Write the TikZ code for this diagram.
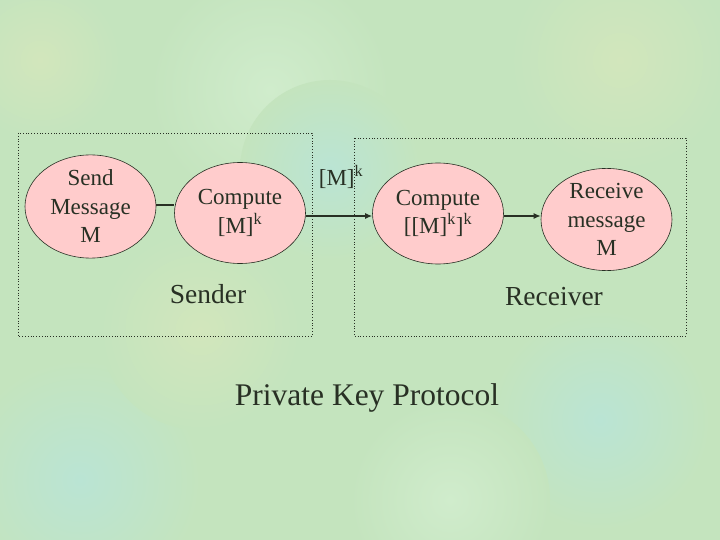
\documentclass[tikz,border=0pt]{standalone}
\usepackage{fontspec}
\setmainfont{Liberation Serif}
\usetikzlibrary{arrows.meta,shapes.geometric}
\definecolor{bgbase}{RGB}{196,228,190}
\definecolor{bgblue}{RGB}{186,228,212}
\definecolor{bgyellow}{RGB}{210,230,188}
\definecolor{bglight}{RGB}{208,236,204}
\definecolor{ellfill}{RGB}{255,204,204}
\definecolor{inkdark}{RGB}{40,48,36}
\tikzset{
  proc/.style={ellipse, draw=inkdark, line width=0.6pt, fill=ellfill,
    minimum width=131pt, minimum height=101pt, inner sep=0pt,
    align=center, text=inkdark, font=\fontsize{23}{28.5}\selectfont},
  groupbox/.style={draw=inkdark, dotted, line width=0.8pt},
  flow/.style={draw=inkdark, line width=1.2pt},
  flowarrow/.style={flow, -{Latex[length=7pt,width=6pt]}},
  grouplabel/.style={text=inkdark, font=\fontsize{27.5}{32}\selectfont, inner sep=0pt},
  msglabel/.style={text=inkdark, font=\fontsize{23}{28}\selectfont, inner sep=0pt},
  titlelabel/.style={text=inkdark, font=\fontsize{31.5}{36}\selectfont, inner sep=0pt}
}
\begin{document}
\begin{tikzpicture}[x=1pt,y=-1pt]
\useasboundingbox (0,0) rectangle (720,540);
\fill[bgbase] (0,0) rectangle (720,540);
\begin{scope}
\clip (0,0) rectangle (720,540);
\shade[inner color=bglight, outer color=bgbase] (270,90) circle (120);
\shade[inner color=bgyellow, outer color=bgbase] (620,60) circle (110);
\shade[inner color=bgblue, outer color=bgbase] (330,170) circle (90);
\shade[inner color=bgblue, outer color=bgbase] (80,480) circle (120);
\shade[inner color=bgyellow, outer color=bgbase] (200,330) circle (100);
\shade[inner color=bgblue, outer color=bgbase] (600,420) circle (110);
\shade[inner color=bglight, outer color=bgbase] (450,500) circle (100);
\shade[inner color=bgyellow, outer color=bgbase] (40,60) circle (80);
\end{scope}

\draw[groupbox] (18,133) rectangle (312,336);
\draw[groupbox] (354,138) rectangle (686,336);

\node[proc] (send) at (90.5,206.5) {Send\\Message\\M};
\node[proc] (comp1) at (240,213) {Compute\\{}[M]\textsuperscript{k}};
\node[proc] (comp2) at (438,213.5) {Compute\\{}[[M]\textsuperscript{k}]\textsuperscript{k}};
\node[proc] (recv) at (606.5,219.5) {Receive\\message\\M};

\draw[flow] (send.east |- 0,205) -- (comp1.west |- 0,205);
\draw[flowarrow] (comp1.east |- 0,216) -- (comp2.west |- 0,216);
\draw[flowarrow] (comp2.east |- 0,216) -- (recv.west |- 0,216);

\node[msglabel] (msg) at (341,177) {[M]\textsuperscript{k}};
\node[grouplabel] (sender) at (208,294) {Sender};
\node[grouplabel] (receiver) at (554,297) {Receiver};
\node[titlelabel] (title) at (367,398) {Private Key Protocol};
\end{tikzpicture}
\end{document}
